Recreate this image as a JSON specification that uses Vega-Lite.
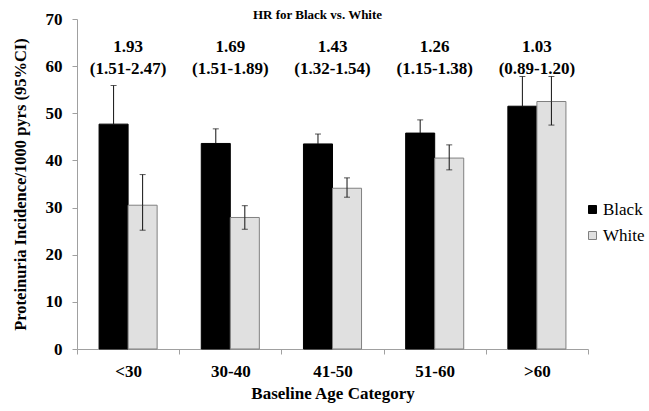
{
  "$schema": "https://vega.github.io/schema/vega-lite/v6.json",
  "autosize": "none",
  "width": 511,
  "height": 330,
  "padding": {"left": 77, "top": 19, "right": 61, "bottom": 62},
  "background": "white",
  "title": {"text": "HR for Black vs. White", "font": "'Liberation Serif', 'Times New Roman', serif", "fontSize": 13, "fontWeight": "bold", "color": "#000000", "anchor": "middle", "dx": -15, "offset": -12},
  "datasets": {
    "rates": [
      {"age": "<30", "race": "Black", "rate": 47.7, "lo": 39.5, "hi": 55.9},
      {"age": "<30", "race": "White", "rate": 30.5, "lo": 25.2, "hi": 37.0},
      {"age": "30-40", "race": "Black", "rate": 43.6, "lo": 40.5, "hi": 46.7},
      {"age": "30-40", "race": "White", "rate": 27.9, "lo": 25.4, "hi": 30.4},
      {"age": "41-50", "race": "Black", "rate": 43.5, "lo": 41.4, "hi": 45.6},
      {"age": "41-50", "race": "White", "rate": 34.1, "lo": 32.2, "hi": 36.3},
      {"age": "51-60", "race": "Black", "rate": 45.8, "lo": 43.0, "hi": 48.6},
      {"age": "51-60", "race": "White", "rate": 40.5, "lo": 38.0, "hi": 43.3},
      {"age": ">60", "race": "Black", "rate": 51.5, "lo": 45.2, "hi": 57.8},
      {"age": ">60", "race": "White", "rate": 52.5, "lo": 47.5, "hi": 57.8}
    ],
    "hr": [
      {"age": "<30", "hr": "1.93", "ci": "(1.51-2.47)"},
      {"age": "30-40", "hr": "1.69", "ci": "(1.51-1.89)"},
      {"age": "41-50", "hr": "1.43", "ci": "(1.32-1.54)"},
      {"age": "51-60", "hr": "1.26", "ci": "(1.15-1.38)"},
      {"age": ">60", "hr": "1.03", "ci": "(0.89-1.20)"}
    ]
  },
  "encoding": {
    "x": {
      "field": "age", "type": "nominal",
      "sort": ["<30", "30-40", "41-50", "51-60", ">60"],
      "scale": {"paddingInner": 0, "paddingOuter": 0},
      "axis": {
        "title": "Baseline Age Category", "labelAngle": 0, "tickBand": "extent",
        "tickSize": 5, "tickColor": "#a0a0a0", "domainColor": "#a0a0a0",
        "labelFont": "'Liberation Serif', 'Times New Roman', serif", "labelFontSize": 17, "labelFontWeight": "bold", "labelColor": "#000000", "labelPadding": 9,
        "titleFont": "'Liberation Serif', 'Times New Roman', serif", "titleFontSize": 17, "titleFontWeight": "bold", "titleColor": "#000000", "titlePadding": 6
      }
    }
  },
  "layer": [
    {
      "data": {"name": "rates"},
      "mark": {"type": "bar", "strokeWidth": 1},
      "encoding": {
        "xOffset": {"field": "race", "type": "nominal", "scale": {"paddingOuter": 0.76, "paddingInner": 0}},
        "y": {
          "field": "rate", "type": "quantitative",
          "scale": {"domain": [0, 70], "nice": false},
          "axis": {
            "title": "Proteinuria Incidence/1000 pyrs (95%CI)", "values": [0, 10, 20, 30, 40, 50, 60, 70],
            "grid": false, "tickSize": 5, "tickColor": "#a0a0a0", "domainColor": "#a0a0a0",
            "labelFont": "'Liberation Serif', 'Times New Roman', serif", "labelFontSize": 17, "labelFontWeight": "bold", "labelColor": "#000000", "labelPadding": 10,
            "titleFont": "'Liberation Serif', 'Times New Roman', serif", "titleFontSize": 16.5, "titleFontWeight": "bold", "titleColor": "#000000", "titlePadding": 17
          }
        },
        "fill": {
          "field": "race", "type": "nominal",
          "scale": {"domain": ["Black", "White"], "range": ["#000000", "#e0e0e0"]},
          "legend": {
            "title": null, "orient": "none", "legendX": 507, "legendY": 182,
            "symbolType": "square", "symbolSize": 64, "symbolStrokeWidth": 1,
            "labelFont": "'Liberation Serif', 'Times New Roman', serif", "labelFontSize": 17, "labelColor": "#000000", "rowPadding": 8, "labelOffset": 2
          }
        },
        "stroke": {
          "field": "race", "type": "nominal",
          "scale": {"domain": ["Black", "White"], "range": ["#000000", "#808080"]},
          "legend": {
            "title": null, "orient": "none", "legendX": 507, "legendY": 182,
            "symbolType": "square", "symbolSize": 64, "symbolStrokeWidth": 1,
            "labelFont": "'Liberation Serif', 'Times New Roman', serif", "labelFontSize": 17, "labelColor": "#000000", "rowPadding": 8, "labelOffset": 2
          }
        }
      }
    },
    {
      "data": {"name": "rates"},
      "mark": {"type": "rule", "color": "#111111", "strokeWidth": 1},
      "encoding": {
        "xOffset": {"field": "race", "type": "nominal"},
        "y": {"field": "rate", "type": "quantitative"},
        "y2": {"field": "hi"}
      }
    },
    {
      "data": {"name": "rates"},
      "transform": [{"filter": "datum.race === 'White'"}],
      "mark": {"type": "rule", "color": "#111111", "strokeWidth": 1},
      "encoding": {
        "xOffset": {"field": "race", "type": "nominal"},
        "y": {"field": "lo", "type": "quantitative"},
        "y2": {"field": "rate"}
      }
    },
    {
      "data": {"name": "rates"},
      "mark": {"type": "tick", "color": "#111111", "size": 6, "thickness": 1, "orient": "horizontal"},
      "encoding": {
        "xOffset": {"field": "race", "type": "nominal"},
        "y": {"field": "hi", "type": "quantitative"}
      }
    },
    {
      "data": {"name": "rates"},
      "transform": [{"filter": "datum.race === 'White'"}],
      "mark": {"type": "tick", "color": "#111111", "size": 6, "thickness": 1, "orient": "horizontal"},
      "encoding": {
        "xOffset": {"field": "race", "type": "nominal"},
        "y": {"field": "lo", "type": "quantitative"}
      }
    },
    {
      "data": {"name": "hr"},
      "mark": {"type": "text", "font": "'Liberation Serif', 'Times New Roman', serif", "fontSize": 17, "fontWeight": "bold", "color": "#000000", "baseline": "middle"},
      "encoding": {
        "y": {"datum": 64.0, "type": "quantitative"},
        "text": {"field": "hr"}
      }
    },
    {
      "data": {"name": "hr"},
      "mark": {"type": "text", "font": "'Liberation Serif', 'Times New Roman', serif", "fontSize": 17, "fontWeight": "bold", "color": "#000000", "baseline": "middle"},
      "encoding": {
        "y": {"datum": 59.4, "type": "quantitative"},
        "text": {"field": "ci"}
      }
    }
  ],
  "config": {"view": {"stroke": null}}
}
